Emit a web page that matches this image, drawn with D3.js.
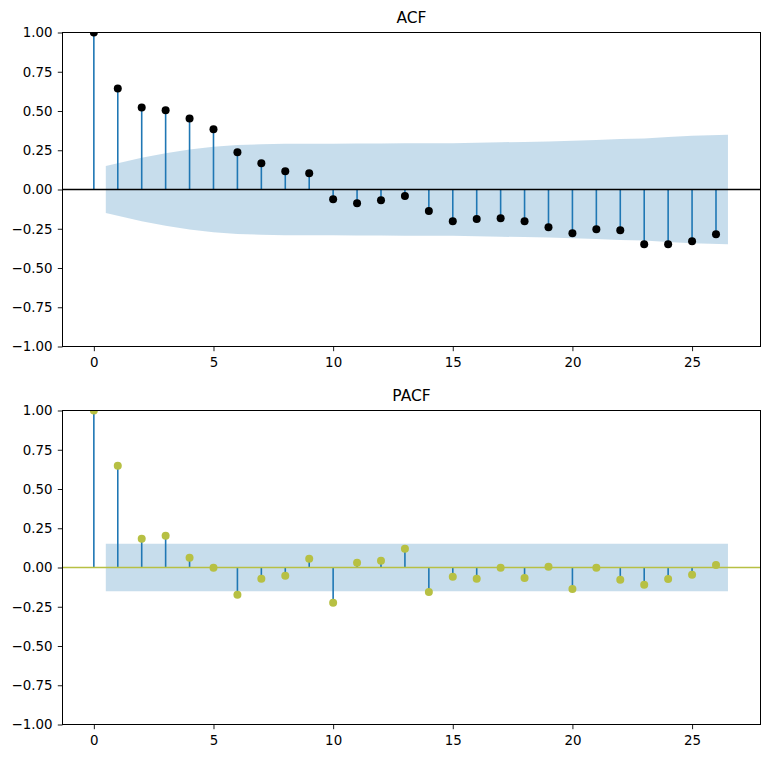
<!DOCTYPE html>
<html>
<head>
<meta charset="utf-8">
<script src="https://cdn.jsdelivr.net/npm/d3@7"></script>
<style>
  body { margin: 0; background: #fff; }
  text { font-family: "DejaVu Sans", sans-serif; }
</style>
</head>
<body>
<div id="chart"></div>
<script>
// lags 0..26
const lags = [0, 1, 2, 3, 4, 5, 6, 7, 8, 9, 10, 11, 12, 13, 14, 15, 16, 17, 18, 19, 20, 21, 22, 23, 24, 25, 26];

// autocorrelation values
const acfValues = [1.0, 0.644, 0.523, 0.504, 0.453, 0.383, 0.237, 0.167, 0.116, 0.103,
  -0.062, -0.088, -0.069, -0.041, -0.137, -0.202, -0.188, -0.183, -0.202, -0.240,
  -0.279, -0.253, -0.260, -0.349, -0.349, -0.330, -0.285];
// half-width of the ACF confidence band, lags 1..26
const acfBand = [0.150, 0.203, 0.231, 0.255, 0.272, 0.284, 0.288, 0.291, 0.292, 0.292,
  0.293, 0.293, 0.294, 0.294, 0.295, 0.298, 0.301, 0.303, 0.306, 0.311,
  0.316, 0.321, 0.325, 0.334, 0.342, 0.349];

// partial autocorrelation values
const pacfValues = [1.0, 0.648, 0.183, 0.202, 0.062, -0.002, -0.173, -0.071, -0.052, 0.056,
  -0.224, 0.030, 0.043, 0.119, -0.156, -0.059, -0.071, -0.001, -0.067, 0.005,
  -0.137, -0.001, -0.078, -0.110, -0.073, -0.046, 0.016];
const pacfBand = [0.152, 0.152, 0.152, 0.152, 0.152, 0.152, 0.152, 0.152, 0.152, 0.152,
  0.152, 0.152, 0.152, 0.152, 0.152, 0.152, 0.152, 0.152, 0.152, 0.152,
  0.152, 0.152, 0.152, 0.152, 0.152, 0.152];

const xTicks = [0, 5, 10, 15, 20, 25];
const yTicks = [-1.0, -0.75, -0.5, -0.25, 0.0, 0.25, 0.5, 0.75, 1.0];

const W = 769, H = 759;
const svg = d3.select('#chart').append('svg')
    .attr('width', W)
    .attr('height', H);

const left = 62.5, right = 760.5;
const x = d3.scaleLinear().domain([-1.31, 27.86]).range([left, right]);

function drawPanel(cfg) {
    const y = d3.scaleLinear().domain([-1, 1]).range([cfg.bottom, cfg.top]);
    const g = svg.append('g');

    // confidence band (first / last lag widened by half a step)
    const bandLags = lags.slice(1).map((l, i, arr) =>
        i === 0 ? l - 0.5 : (i === arr.length - 1 ? l + 0.5 : l));
    const area = d3.area()
        .x((d, i) => x(bandLags[i]))
        .y0(d => y(-d))
        .y1(d => y(d));
    g.append('path')
        .datum(cfg.band)
        .attr('d', area)
        .attr('fill', '#1f77b4')
        .attr('fill-opacity', 0.25);

    // stems
    g.selectAll('.stem')
        .data(cfg.values)
        .enter()
        .append('line')
        .attr('x1', (d, i) => x(lags[i]))
        .attr('x2', (d, i) => x(lags[i]))
        .attr('y1', y(0))
        .attr('y2', d => y(d))
        .attr('stroke', '#1f77b4')
        .attr('stroke-width', 1.6);

    // zero line
    g.append('line')
        .attr('x1', left).attr('x2', right)
        .attr('y1', y(0)).attr('y2', y(0))
        .attr('stroke', cfg.zeroColor)
        .attr('stroke-width', 1.7);

    // markers, clipped to the axes
    const clipId = 'clip' + cfg.title;
    svg.append('clipPath').attr('id', clipId)
        .append('rect')
        .attr('x', left).attr('y', cfg.top)
        .attr('width', right - left).attr('height', cfg.bottom - cfg.top);
    g.append('g')
        .attr('clip-path', `url(#${clipId})`)
        .selectAll('circle')
        .data(cfg.values)
        .enter()
        .append('circle')
        .attr('cx', (d, i) => x(lags[i]))
        .attr('cy', d => y(d))
        .attr('r', 4)
        .attr('fill', cfg.markerColor);

    // axes
    const xAxis = g.append('g')
        .attr('transform', `translate(0,${cfg.bottom})`)
        .call(d3.axisBottom(x).tickValues(xTicks).tickFormat(d3.format('d'))
            .tickSizeOuter(0).tickSize(4.7).tickPadding(6));
    const yAxis = g.append('g')
        .attr('transform', `translate(${left},0)`)
        .call(d3.axisLeft(y).tickValues(yTicks).tickFormat(d3.format('.2f'))
            .tickSizeOuter(0).tickSize(4.7).tickPadding(5.3));
    [xAxis, yAxis].forEach(a => {
        a.select('.domain').remove();
        a.selectAll('line').attr('stroke', '#000').attr('stroke-width', 0.9);
        a.selectAll('text').attr('fill', '#000')
            .style('font-size', '13.4px')
            .style('font-family', '"DejaVu Sans", sans-serif');
    });

    // frame
    g.append('rect')
        .attr('x', left).attr('y', cfg.top)
        .attr('width', right - left).attr('height', cfg.bottom - cfg.top)
        .attr('fill', 'none')
        .attr('stroke', '#000')
        .attr('stroke-width', 1);

    // title
    g.append('text')
        .attr('x', (left + right) / 2)
        .attr('y', cfg.top - 10)
        .attr('text-anchor', 'middle')
        .style('font-size', '15.5px')
        .text(cfg.title);
}

drawPanel({
    title: 'ACF', top: 32.5, bottom: 346.5,
    values: acfValues, band: acfBand,
    markerColor: '#000000', zeroColor: '#000000'
});

drawPanel({
    title: 'PACF', top: 410.5, bottom: 724.5,
    values: pacfValues, band: pacfBand,
    markerColor: '#b7c043', zeroColor: '#b7c043'
});
</script>
</body>
</html>
